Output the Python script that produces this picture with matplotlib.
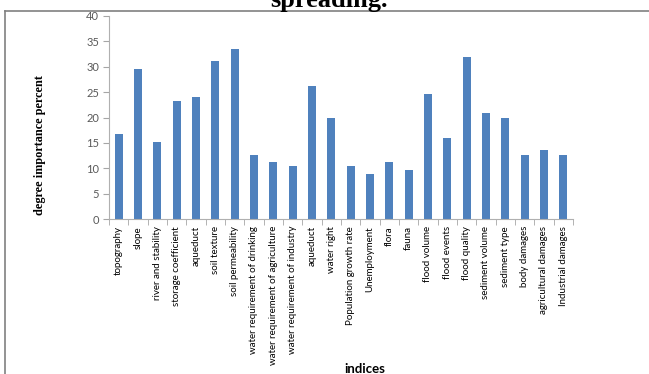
import matplotlib.pyplot as plt
from matplotlib.lines import Line2D
import numpy as np

# indices and their degree of importance (percent)
indices = [
    'topography',
    'slope',
    'river and stability',
    'storage coefficient',
    'aqueduct',
    'soil texture',
    'soil permeability',
    'water requirement of drinking',
    'water requirement of agriculture',
    'water requirement of industry',
    'aqueduct',
    'water right',
    'Population growth rate',
    'Unemployment',
    'flora',
    'fauna',
    'flood volume',
    'flood events',
    'flood quality',
    'sediment volume',
    'sediment type',
    'body damages',
    'agricultural damages',
    'Industrial damages',
]
importance = [
    16.8, 29.5, 15.2, 23.2, 24.0, 31.1, 33.5, 12.7, 11.2, 10.4, 26.3, 20.0,
    10.4, 8.9, 11.2, 9.6, 24.7, 16.0, 31.9, 20.8, 20.0, 12.7, 13.6, 12.7,
]

W, H = 649, 374
fig = plt.figure(figsize=(W / 100, H / 100), dpi=100)
ax = fig.add_axes([109 / W, 1 - 219 / H, 464 / W, 203 / H])

x = np.arange(len(indices))
ax.bar(x, importance, width=0.43, color='#4F81BD')

ax.set_xlim(-0.5, len(indices) - 0.5)
ax.set_ylim(0, 40)
ax.set_yticks(range(0, 41, 5))

# category labels at centres, tick marks on the boundaries
ax.set_xticks(x)
ax.set_xticklabels(indices, rotation=90, fontsize=7, family='Lato')
ax.set_xticks(np.arange(-0.5, len(indices)), minor=True)
ax.tick_params(axis='x', which='major', length=0, pad=5)
ax.tick_params(axis='x', which='minor', length=4, color='#a6a6a6')
ax.tick_params(axis='y', length=4, color='#a6a6a6', labelcolor='#595959',
               labelsize=8, pad=3)
for lab in ax.get_yticklabels():
    lab.set_family('Lato')

for s in ['top', 'right']:
    ax.spines[s].set_visible(False)
for s in ['left', 'bottom']:
    ax.spines[s].set_color('#b0b0b0')

fig.text(40 / W, 1 - 145 / H, 'degree importance percent', rotation=90,
         ha='center', va='center', fontsize=8.8, fontweight='bold',
         family='Liberation Serif')
fig.text(365 / W, 1 - 369 / H, 'indices', ha='center', va='center',
         fontsize=9.5, fontweight='bold', family='Lato')

# heading of the page, partly above the frame
fig.text(329 / W, 1 - 7 / H, 'spreading.', ha='center', va='baseline',
         fontsize=19, fontweight='bold', family='Liberation Serif')

# frame around the chart area
fig.add_artist(Line2D([5 / W, 1], [1 - 10.5 / H, 1 - 10.5 / H],
                      color='#808080', lw=1.2))
fig.add_artist(Line2D([5 / W, 5 / W], [0, 1 - 10.5 / H],
                      color='#808080', lw=1.2))

fig.savefig('out.png', dpi=100)
